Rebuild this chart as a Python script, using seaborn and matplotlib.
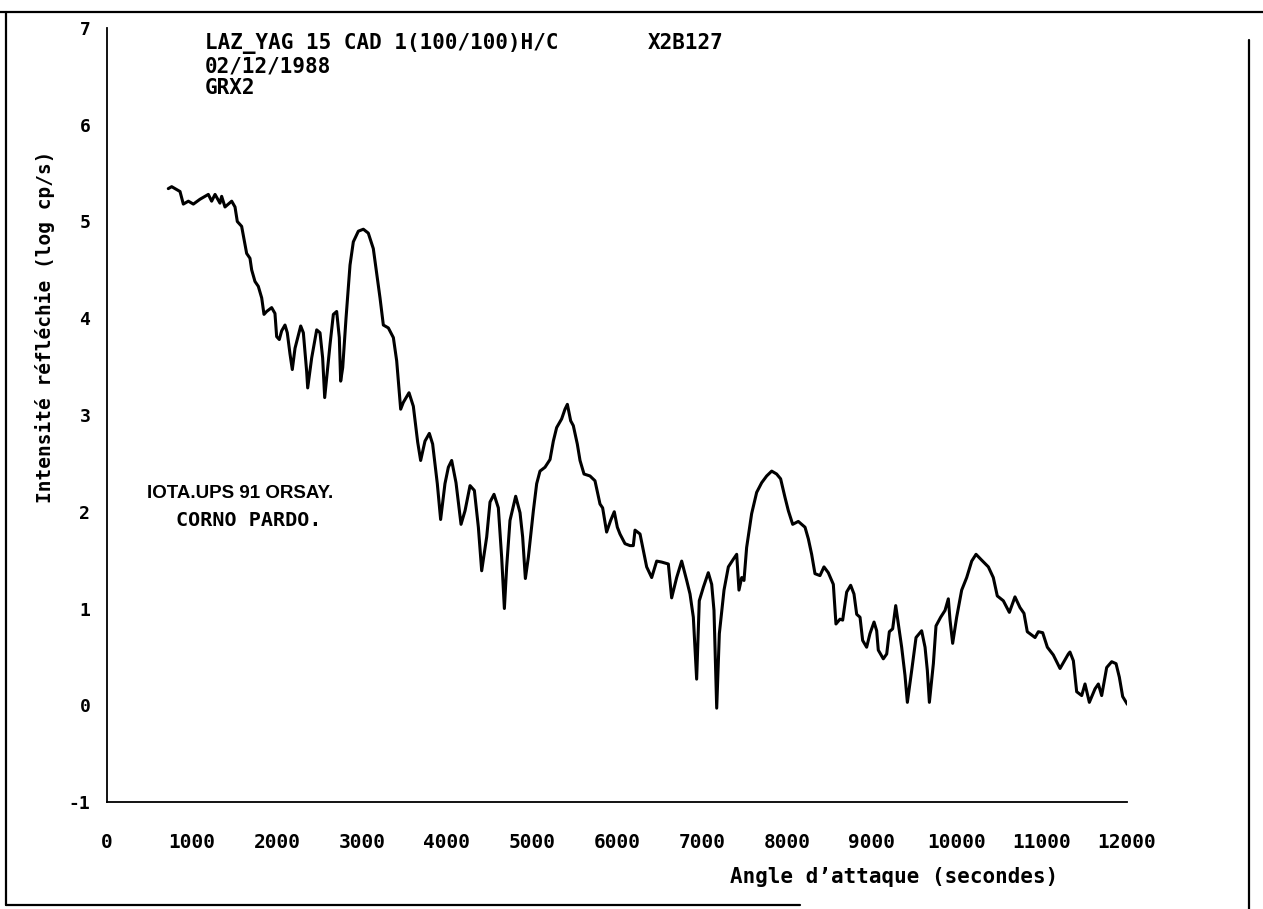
import matplotlib
matplotlib.use("Agg")
import matplotlib.pyplot as plt
from matplotlib.lines import Line2D
import numpy as np
import pandas as pd
import seaborn as sns

# ---- data ----
angle = [721, 761, 859, 898, 957, 1016, 1094, 1192, 1231, 1271, 1329, 1349, 1388, 1467, 1506,
         1533, 1584, 1624, 1643, 1682, 1702, 1741, 1780, 1820, 1847, 1878, 1937, 1976, 1996, 2027,
         2055, 2094, 2121, 2153, 2180, 2212, 2279, 2310, 2349, 2361, 2408, 2467, 2506, 2537, 2561,
         2592, 2624, 2663, 2702, 2733, 2749, 2773, 2812, 2839, 2859, 2898, 2957, 3016, 3074, 3133,
         3180, 3212, 3251, 3310, 3369, 3408, 3455, 3486, 3553, 3604, 3655, 3690, 3741, 3792, 3831,
         3886, 3925, 3976, 4016, 4055, 4106, 4165, 4212, 4271, 4322, 4369, 4408, 4467, 4506, 4553,
         4604, 4643, 4675, 4702, 4741, 4808, 4859, 4890, 4922, 4957, 5016, 5055, 5094, 5153, 5212,
         5251, 5290, 5349, 5388, 5416, 5455, 5486, 5533, 5565, 5612, 5682, 5741, 5800, 5831, 5878,
         5925, 5968, 6004, 6035, 6094, 6153, 6192, 6212, 6271, 6349, 6408, 6467, 6525, 6604, 6643,
         6702, 6761, 6820, 6859, 6898, 6937, 6968, 7016, 7074, 7114, 7141, 7173, 7204, 7259, 7310,
         7369, 7408, 7435, 7467, 7494, 7525, 7584, 7643, 7702, 7761, 7820, 7878, 7925, 7976, 8016,
         8067, 8133, 8212, 8251, 8290, 8329, 8388, 8435, 8486, 8545, 8576, 8624, 8655, 8702, 8749,
         8788, 8820, 8859, 8890, 8937, 8976, 9024, 9055, 9074, 9133, 9173, 9204, 9243, 9279, 9310,
         9349, 9388, 9416, 9467, 9518, 9584, 9624, 9651, 9675, 9722, 9753, 9808, 9859, 9898, 9918,
         9949, 9996, 10055, 10114, 10173, 10224, 10290, 10369, 10427, 10474, 10545, 10616, 10682,
         10741, 10788, 10827, 10918, 10957, 11008, 11063, 11133, 11212, 11310, 11329, 11369, 11408,
         11467, 11506, 11557, 11624, 11663, 11702, 11761, 11820, 11871, 11910, 11949, 12004]
intensity = [5.34, 5.36, 5.31, 5.18, 5.21, 5.18, 5.23, 5.28, 5.21, 5.28, 5.19, 5.26, 5.15, 5.21, 5.15,
             5.00, 4.95, 4.76, 4.67, 4.62, 4.50, 4.38, 4.33, 4.21, 4.04, 4.07, 4.11, 4.05, 3.81, 3.78,
             3.87, 3.93, 3.85, 3.63, 3.47, 3.69, 3.92, 3.85, 3.45, 3.28, 3.59, 3.88, 3.85, 3.59, 3.18,
             3.45, 3.73, 4.04, 4.07, 3.80, 3.35, 3.49, 4.00, 4.31, 4.55, 4.79, 4.90, 4.92, 4.88, 4.72,
             4.42, 4.21, 3.93, 3.90, 3.80, 3.56, 3.06, 3.13, 3.23, 3.09, 2.72, 2.53, 2.73, 2.81, 2.70,
             2.29, 1.92, 2.29, 2.46, 2.53, 2.30, 1.87, 2.01, 2.27, 2.22, 1.84, 1.39, 1.74, 2.10, 2.18,
             2.04, 1.53, 1.00, 1.43, 1.91, 2.16, 1.99, 1.74, 1.31, 1.53, 2.01, 2.29, 2.42, 2.46, 2.54,
             2.73, 2.87, 2.96, 3.06, 3.11, 2.94, 2.89, 2.70, 2.53, 2.39, 2.37, 2.32, 2.08, 2.04, 1.79,
             1.91, 2.00, 1.84, 1.77, 1.67, 1.65, 1.65, 1.81, 1.77, 1.43, 1.32, 1.49, 1.48, 1.46, 1.11,
             1.32, 1.49, 1.29, 1.15, 0.91, 0.27, 1.08, 1.22, 1.37, 1.25, 0.98, -0.03, 0.74, 1.19, 1.43,
             1.51, 1.56, 1.19, 1.32, 1.29, 1.63, 1.98, 2.20, 2.30, 2.37, 2.42, 2.39, 2.34, 2.15, 2.01,
             1.87, 1.90, 1.84, 1.72, 1.56, 1.36, 1.34, 1.43, 1.37, 1.25, 0.84, 0.89, 0.88, 1.17, 1.24,
             1.15, 0.94, 0.91, 0.67, 0.60, 0.74, 0.86, 0.77, 0.57, 0.48, 0.53, 0.76, 0.79, 1.03, 0.84,
             0.60, 0.31, 0.03, 0.36, 0.70, 0.77, 0.60, 0.36, 0.03, 0.43, 0.82, 0.91, 0.98, 1.10, 0.88,
             0.64, 0.91, 1.19, 1.32, 1.49, 1.56, 1.50, 1.43, 1.32, 1.13, 1.08, 0.96, 1.12,
             1.01, 0.95, 0.76, 0.70, 0.76, 0.75, 0.60, 0.52, 0.38, 0.53, 0.55, 0.46, 0.14,
             0.10, 0.22, 0.03, 0.17, 0.22, 0.10, 0.39, 0.45, 0.43, 0.29, 0.09, 0.01]

x_ticks = list(range(0, 12001, 1000))
y_ticks = list(range(-1, 8))

header_lines = ["LAZ_YAG 15 CAD 1(100/100)H/C", "02/12/1988", "GRX2"]
header_code = "X2B127"
note_lines = ["IOTA.UPS 91 ORSAY.", "CORNO PARDO."]
x_title = "Angle d’attaque (secondes)"
y_title = "Intensité réfléchie (log cp/s)"

df = pd.DataFrame({"angle": angle, "intensity": intensity})

sns.set_theme(style="white")
plt.rcParams['font.family'] = ['DejaVu Sans Mono', 'DejaVu Sans']
plt.rcParams['font.weight'] = 'bold'
plt.rcParams['text.color'] = 'black'
plt.rcParams['axes.labelcolor'] = 'black'
plt.rcParams['xtick.color'] = 'black'
plt.rcParams['ytick.color'] = 'black'

W, H = 1263, 909
fig = plt.figure(figsize=(W / 100, H / 100), dpi=100)
fig.patch.set_facecolor('white')

x0, x1 = 107, 1127
ytop, ybot = 28, 802
ax = fig.add_axes([x0 / W, 1 - ybot / H, (x1 - x0) / W, (ybot - ytop) / H])
ax.set_facecolor('white')

sns.lineplot(data=df, x="angle", y="intensity", ax=ax, color="black",
             linewidth=2.2, sort=False, estimator=None)

ax.set_xlim(0, 12000)
ax.set_ylim(-1, 7)
ax.set_xticks(x_ticks)
ax.set_yticks(y_ticks)
ax.set_xticklabels([str(t) for t in x_ticks])
ax.set_yticklabels([str(t) for t in y_ticks])
ax.set_xlabel("")
ax.set_ylabel("")
for s in ["top", "right"]:
    ax.spines[s].set_visible(False)
for s in ["left", "bottom"]:
    ax.spines[s].set_color("black")
    ax.spines[s].set_linewidth(1.3)
ax.tick_params(axis="both", direction="in", length=14, width=1.3, colors="black",
               labelcolor="black")
ax.tick_params(axis="x", pad=22, labelsize=14)
ax.tick_params(axis="y", pad=12, labelsize=13)
for lab in ax.get_xticklabels() + ax.get_yticklabels():
    lab.set_fontweight("bold")


def ft(px, py, s, **kw):
    fig.text(px / W, 1 - py / H, s, color="black", **kw)


ft(205, 43, header_lines[0], va="center", ha="left", fontsize=15)
ft(648, 43, header_code, va="center", ha="left", fontsize=15)
ft(205, 66, header_lines[1], va="center", ha="left", fontsize=15)
ft(205, 88, header_lines[2], va="center", ha="left", fontsize=15)

ft(147, 493, note_lines[0], va="center", ha="left", fontsize=13.5,
   family=["Liberation Sans", "DejaVu Sans"])
ft(176, 521, note_lines[1], va="center", ha="left", fontsize=14.5)

ft(45, 327, y_title, rotation=90, va="center", ha="center", fontsize=14)
ft(894, 877, x_title, va="center", ha="center", fontsize=15)

# scanned page frame
frame = [((0, 12), (1263, 12)), ((6, 12), (6, 905)), ((6, 905), (800, 905)),
         ((1249, 40), (1249, 909))]
for (ax_, ay_), (bx_, by_) in frame:
    fig.add_artist(Line2D([ax_ / W, bx_ / W], [1 - ay_ / H, 1 - by_ / H],
                          transform=fig.transFigure, color="black", lw=1.6))

fig.savefig("out.png", dpi=100, facecolor="white")
